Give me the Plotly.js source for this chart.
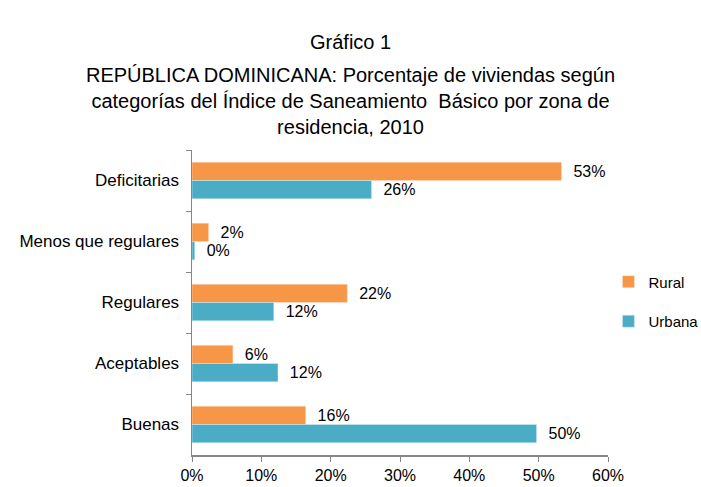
<!DOCTYPE html>
<html>
<head>
<meta charset="utf-8">
<script src="https://cdn.plot.ly/plotly-3.0.1.min.js"></script>
<style>html,body{margin:0;padding:0;background:#fff;}#chart{width:701px;height:487px;}</style>
</head>
<body>
<div id="chart"></div>
<script>
const categories = ["Deficitarias", "Menos que regulares", "Regulares", "Aceptables", "Buenas"];
const rural = [53.3, 2.4, 22.4, 5.9, 16.4];
const urbana = [25.9, 0.4, 11.8, 12.4, 49.7];
const xTickVals = [0, 10, 20, 30, 40, 50, 60];
const xTickText = ["0%", "10%", "20%", "30%", "40%", "50%", "60%"];
const chartNumber = "Gráfico 1";
const chartTitle = "REPÚBLICA DOMINICANA: Porcentaje de viviendas según<br>categorías del Índice de Saneamiento  Básico por zona de<br>residencia, 2010";

const FONT = "Liberation Sans, Arial, sans-serif";

const traces = [
  {
    type: "bar", orientation: "h", name: "Rural", legendgroup: "r",
    y: categories, x: rural,
    marker: {color: "#F79646", line: {color: "#FCE4D2", width: 0.5}},
    texttemplate: "\u00a0\u00a0%{x:.0f}%", textposition: "outside", cliponaxis: false,
    textfont: {family: FONT, size: 16, color: "#000"},
    hoverinfo: "none"
  },
  {
    type: "bar", orientation: "h", name: "Urbana", legendgroup: "u",
    y: categories, x: urbana,
    marker: {color: "#4BACC6", line: {color: "#D8EEF3", width: 0.5}},
    texttemplate: "\u00a0\u00a0%{x:.0f}%", textposition: "outside", cliponaxis: false,
    textfont: {family: FONT, size: 16, color: "#000"},
    hoverinfo: "none"
  }
];

const layout = {
  width: 701, height: 487,
  paper_bgcolor: "#fff", plot_bgcolor: "#fff",
  margin: {l: 192, r: 93, t: 150, b: 32},
  font: {family: FONT, size: 16, color: "#000"},
  title: {
    text: chartTitle,
    font: {family: FONT, size: 20, color: "#000"},
    x: 0.5, xref: "container", xanchor: "center",
    y: 0.832, yref: "container", yanchor: "top"
  },
  annotations: [{
    text: chartNumber, showarrow: false,
    xref: "paper", yref: "paper", x: 0.38, y: 1.354,
    xanchor: "center", yanchor: "middle",
    font: {family: FONT, size: 20, color: "#000"}
  }],
  barmode: "group", bargap: 0.4, bargroupgap: 0,
  xaxis: {
    range: [0, 60], tickvals: xTickVals, ticktext: xTickText,
    showgrid: false, zeroline: false, automargin: false,
    showline: true, linecolor: "#868686", linewidth: 1.5,
    ticks: "outside", ticklen: 5, tickcolor: "#868686",
    tickfont: {family: FONT, size: 16}
  },
  yaxis: {
    autorange: "reversed", type: "category",
    showgrid: false, zeroline: false, automargin: false,
    showline: true, linecolor: "#868686", linewidth: 1.5,
    ticks: "outside", ticklen: 5, tickcolor: "#868686", tickson: "boundaries",
    tickfont: {family: FONT, size: 17},
    ticklabelstandoff: 8
  },
  showlegend: true,
  legend: {
    x: 0.868, xref: "container", xanchor: "left",
    y: 0.381, yref: "container", yanchor: "middle",
    tracegroupgap: 17, itemwidth: 30,
    font: {family: FONT, size: 15},
    bgcolor: "rgba(0,0,0,0)"
  }
};

Plotly.newPlot("chart", traces, layout, {displayModeBar: false, staticPlot: true});
</script>
</body>
</html>
